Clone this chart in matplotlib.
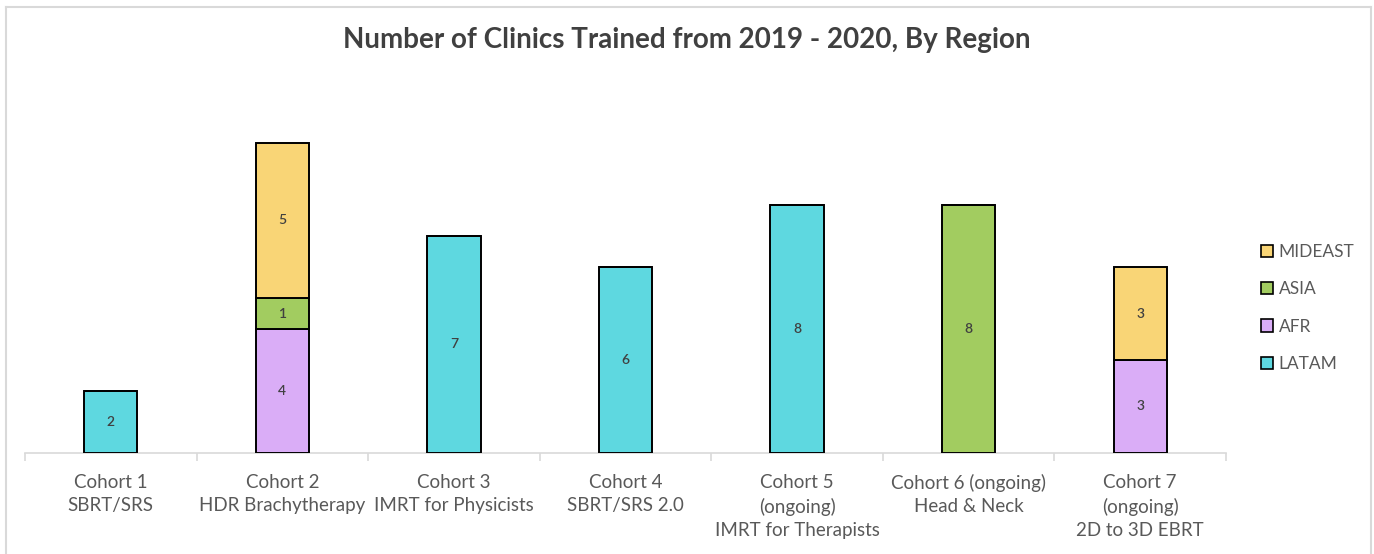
import matplotlib
matplotlib.use("Agg")
import matplotlib.pyplot as plt
from matplotlib.patches import Patch
from matplotlib.lines import Line2D
import numpy as np

categories = ["Cohort 1\nSBRT/SRS", "Cohort 2\nHDR Brachytherapy", "Cohort 3\nIMRT for Physicists",
              "Cohort 4\nSBRT/SRS 2.0", "Cohort 5\n(ongoing)\nIMRT for Therapists",
              "Cohort 6 (ongoing)\nHead & Neck", "Cohort 7\n(ongoing)\n2D to 3D EBRT"]
series_names = ["LATAM", "AFR", "ASIA", "MIDEAST"]
latam = [2, 0, 7, 6, 8, 0, 0]
afr = [0, 4, 0, 0, 0, 0, 3]
asia = [0, 1, 0, 0, 0, 8, 0]
mideast = [0, 5, 0, 0, 0, 0, 3]
colors = {"LATAM": "#5ED8E0", "AFR": "#DAADF7", "ASIA": "#A2CC60", "MIDEAST": "#F9D576"}

plt.rcParams['font.family'] = ['Lato', 'DejaVu Sans']
W, H = 1374, 554
fig = plt.figure(figsize=(W / 100, H / 100), dpi=100)

# outer frame
for xs, ys in [((6, 6), (7, 560)), ((6, 1371), (7, 7)), ((1371, 1371), (7, 560))]:
    fig.add_artist(Line2D([x / W for x in xs], [1 - y / H for y in ys], color="#D9D9D9", lw=1.5,
                          transform=fig.transFigure, clip_on=False))

ax_left, ax_right = 25, 1226
ax_bottom_px, ax_top_px = 453, 81
ax = fig.add_axes([ax_left / W, 1 - ax_bottom_px / H, (ax_right - ax_left) / W, (ax_bottom_px - ax_top_px) / H])

x = np.arange(len(categories))
width = 0.31
data = {"LATAM": latam, "AFR": afr, "ASIA": asia, "MIDEAST": mideast}
bottom = np.zeros(len(categories))
for name in series_names:
    vals = np.array(data[name], dtype=float)
    ax.bar(x, vals, width, bottom=bottom, color=colors[name], edgecolor="black", linewidth=1.4,
           label=name, zorder=3)
    for xi, b, v in zip(x, bottom, vals):
        if v > 0:
            ax.text(xi, b + v / 2, f"{int(v)}", ha="center", va="center", fontsize=10,
                    color="#404040", fontweight="semibold", zorder=4)
    bottom += vals

ax.set_xlim(-0.5, len(categories) - 0.5)
ax.set_ylim(0, 12)
for s in ["top", "right", "left"]:
    ax.spines[s].set_visible(False)
ax.spines["bottom"].set_color("#D9D9D9")
ax.spines["bottom"].set_linewidth(1.2)
ax.set_yticks([])
ax.set_xticks(np.arange(len(categories) + 1) - 0.5, minor=False)
ax.set_xticklabels([])
ax.tick_params(axis="x", which="major", length=6, color="#D9D9D9", width=1.2)
ax.set_xticks(x, minor=True)
ax.set_xticklabels(categories, minor=True, fontsize=13.5, color="#595959", linespacing=1.45)
ax.tick_params(axis="x", which="minor", length=0, pad=15)

fig.text(687 / W, 1 - 40 / H, "Number of Clinics Trained from 2019 - 2020, By Region",
         ha="center", va="center", fontsize=20, fontweight="bold", color="#404040")

handles = [Patch(facecolor=colors[n], edgecolor="black", linewidth=1.2, label=n) for n in reversed(series_names)]
leg = fig.legend(handles=handles, loc="center left", bbox_to_anchor=(1245 / W, 1 - 308 / H),
                 frameon=False, fontsize=12.5, labelcolor="#595959", handlelength=0.7, handleheight=0.7,
                 handletextpad=0.35, labelspacing=1.22)

fig.savefig("out.png", dpi=100)
